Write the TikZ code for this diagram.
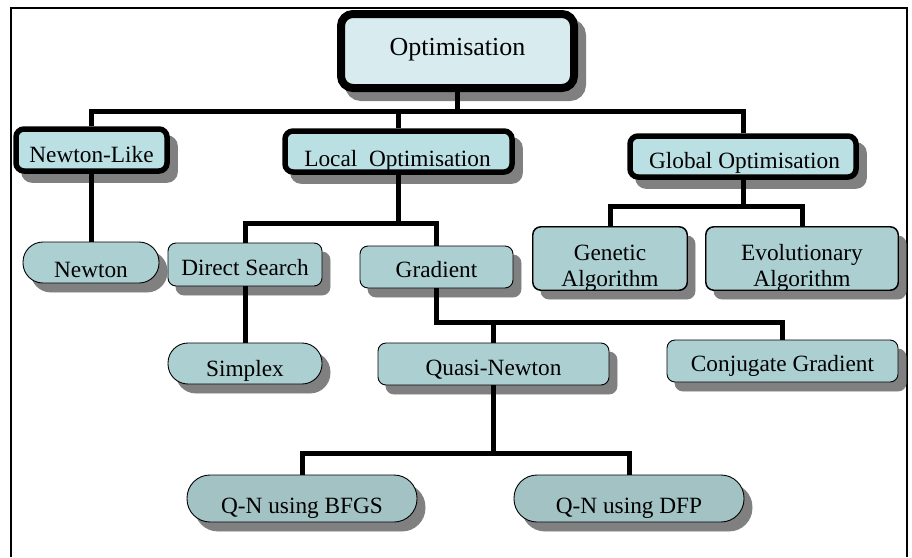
\documentclass[tikz,border=0pt]{standalone}
\usepackage{fontspec}
\setmainfont{Liberation Serif}
\definecolor{fillA}{HTML}{D8ECEF}
\definecolor{fillB}{HTML}{BBE0E4}
\definecolor{fillC}{HTML}{ACCFD2}
\definecolor{fillD}{HTML}{A2C2C4}
\definecolor{shadowgray}{HTML}{808080}
\begin{document}
\begin{tikzpicture}[x=1pt,y=-1pt,
  base/.style={draw=black, rectangle, inner sep=0pt,
    preaction={fill=shadowgray, draw=shadowgray, transform canvas={shift={(8pt,-9pt)}}}},
  topbox/.style={base, line width=8pt, fill=fillA, rounded corners=12pt},
  midbox/.style={base, line width=5.5pt, fill=fillB, rounded corners=8pt},
  lowbox/.style={base, line width=0.9pt, fill=fillC, rounded corners=8pt},
  pillbox/.style={base, line width=0.9pt, fill=fillC, rounded corners=20pt},
  txt/.style={anchor=base, inner sep=0pt, font=\fontsize{23.3}{26}\selectfont},
  conn/.style={line width=5pt, line join=miter},
]
\useasboundingbox (0,0) rectangle (912,557);
% frame
\coordinate (f1) at (11,557);
\coordinate (f2) at (11,8);
\coordinate (f3) at (907,8);
\coordinate (f4) at (907,557);
\draw[line width=1.3pt] (f1) -- (f2) -- (f3) -- (f4);

% boxes
\node[topbox, minimum width=233pt, minimum height=74pt] (opt) at (457.5,51) {};
\node[midbox, minimum width=151pt, minimum height=42pt] (nl) at (91.5,150) {};
\node[midbox, minimum width=227pt, minimum height=41pt] (lo) at (398.5,151.5) {};
\node[midbox, minimum width=226pt, minimum height=41pt] (go) at (743,156.5) {};
\node[pillbox, minimum width=136pt, minimum height=41pt] (nw) at (91,262.5) {};
\node[lowbox, minimum width=154pt, minimum height=43pt] (ds) at (245,264.5) {};
\node[lowbox, minimum width=153pt, minimum height=42pt] (gr) at (436.5,267) {};
\node[lowbox, minimum width=154pt, minimum height=63pt] (ga) at (610,258.5) {};
\node[lowbox, minimum width=192pt, minimum height=63pt] (ea) at (802,258.5) {};
\node[pillbox, minimum width=154pt, minimum height=41pt] (sx) at (245,363.5) {};
\node[lowbox, minimum width=231pt, minimum height=42pt] (qn) at (493.5,364) {};
\node[lowbox, minimum width=231pt, minimum height=42pt] (cg) at (782.5,361) {};
\node[pillbox, fill=fillD, rounded corners=23pt, minimum width=230pt, minimum height=47pt] (bf) at (302,498.5) {};
\node[pillbox, fill=fillD, rounded corners=23pt, minimum width=230pt, minimum height=47pt] (dfp) at (629,498.5) {};

% texts
\node[txt, font=\fontsize{26}{28}\selectfont] (t-opt) at (457.5,55) {Optimisation};
\node[txt] (t-nl) at (91.5,162) {Newton-Like};
\node[txt] (t-lo) at (397.5,166) {Local\ \ Optimisation};
\node[txt] (t-go) at (744.5,168) {Global Optimisation};
\node[txt] (t-nw) at (91,277) {Newton};
\node[txt] (t-ds) at (245,275) {Direct Search};
\node[txt] (t-gr) at (436.5,277) {Gradient};
\node[txt] (t-sx) at (245,376) {Simplex};
\node[txt] (t-qn) at (493.5,375) {Quasi-Newton};
\node[txt] (t-cg) at (782.5,371) {Conjugate Gradient};
\node[txt] (t-bf) at (302,513) {Q-N using BFGS};
\node[txt] (t-dfp) at (629,513) {Q-N using DFP};
\begin{scope}
  \clip[rounded corners=8pt] (ga.south west) rectangle (ga.north east);
  \node[txt] (t-ga1) at (610,260) {Genetic};
  \node[txt] (t-ga2) at (610,286) {Algorithm};
\end{scope}
\draw[line width=0.9pt, rounded corners=8pt] (ga.south west) rectangle (ga.north east);
\begin{scope}
  \clip[rounded corners=8pt] (ea.south west) rectangle (ea.north east);
  \node[txt] (t-ea1) at (802,260) {Evolutionary};
  \node[txt] (t-ea2) at (802,286) {Algorithm};
\end{scope}
\draw[line width=0.9pt, rounded corners=8pt] (ea.south west) rectangle (ea.north east);

% connectors
\coordinate (bus1) at (0,111);
\coordinate (bus2) at (0,223);
\coordinate (bus3) at (0,206);
\coordinate (bus4) at (0,322);
\coordinate (bus5) at (0,453);
\draw[conn] (opt.south) -- (opt.south |- bus1);
\draw[conn] (nl.north) |- (go.north |- bus1) -- (go.north);
\draw[conn] (lo.north) -- (lo.north |- bus1);
\draw[conn] (nl.south) -- (nl.south |- nw.north);
\draw[conn] (lo.south) -- (lo.south |- bus2);
\draw[conn] (ds.north) |- (gr.north |- bus2) -- (gr.north);
\draw[conn] (go.south) -- (go.south |- bus3);
\draw[conn] (ga.north) |- (ea.north |- bus3) -- (ea.north);
\draw[conn] (ds.south) -- (sx.north);
\draw[conn] (gr.south) |- (cg.north |- bus4) -- (cg.north);
\draw[conn] (qn.north) -- (qn.north |- bus4);
\draw[conn] (qn.south) -- (qn.south |- bus5);
\draw[conn] (bf.north) |- (dfp.north |- bus5) -- (dfp.north);
\end{tikzpicture}
\end{document}
